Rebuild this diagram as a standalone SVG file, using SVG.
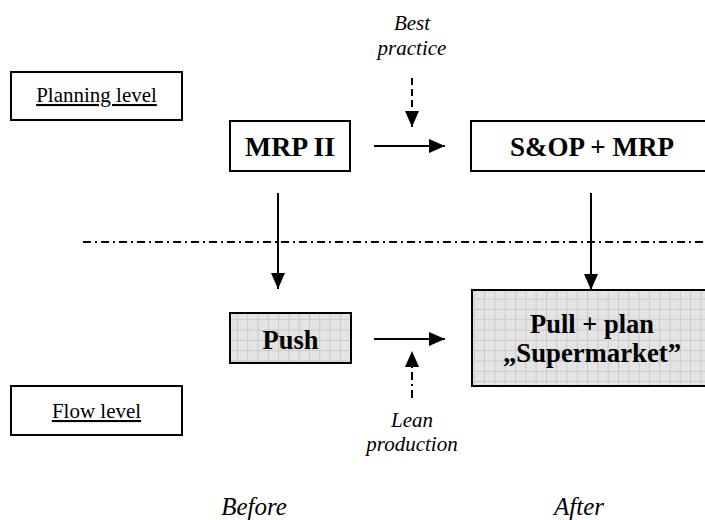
<svg xmlns="http://www.w3.org/2000/svg" width="705" height="520" viewBox="0 0 705 520">
  <defs>
    <style>
      .box { fill: #ffffff; stroke: #000000; stroke-width: 2; }
      .shaded { fill: url(#grid); stroke: #000000; stroke-width: 2; }
      .title { font-family: "Liberation Serif", "Times New Roman", serif; font-weight: bold; font-size: 28px; text-anchor: middle; fill: #000; }
      .level { font-family: "Liberation Serif", "Times New Roman", serif; font-size: 21px; text-anchor: middle; text-decoration: underline; fill: #000; }
      .note { font-family: "Liberation Serif", "Times New Roman", serif; font-style: italic; font-size: 21px; text-anchor: middle; fill: #000; }
      .phase { font-family: "Liberation Serif", "Times New Roman", serif; font-style: italic; font-size: 25px; text-anchor: middle; fill: #000; }
      .arrow { fill: none; stroke: #000; stroke-width: 2; marker-end: url(#head); }
      .dashed { stroke-dasharray: 7 4; }
      .dashdot { stroke-dasharray: 8 4 2 4; }
    </style>
    <pattern id="grid" patternUnits="userSpaceOnUse" x="0" y="0" width="10.3" height="10.3">
      <rect width="10.3" height="10.3" fill="#e4e4e4"/>
      <path d="M0 0.5 H10.3 M0.5 0 V10.3" stroke="#c9c9c9" stroke-width="1"/>
    </pattern>
    <marker id="head" markerUnits="userSpaceOnUse" markerWidth="18" markerHeight="16" refX="16" refY="7" orient="auto">
      <path d="M0 0 L16 7 L0 14 Z" fill="#000"/>
    </marker>
  </defs>

  <!-- level labels -->
  <g id="planning-level">
    <rect class="box" x="11" y="72" width="171" height="48"/>
    <text class="level" x="96.5" y="102">Planning level</text>
  </g>
  <g id="flow-level">
    <rect class="box" x="11" y="386" width="171" height="49"/>
    <text class="level" x="96.5" y="418">Flow level</text>
  </g>

  <!-- planning nodes -->
  <g id="mrp2">
    <rect class="box" x="230" y="121" width="120" height="50"/>
    <text class="title" x="290" y="156" textLength="90" lengthAdjust="spacingAndGlyphs">MRP II</text>
  </g>
  <g id="sop-mrp">
    <rect class="box" x="471" y="121" width="250" height="50"/>
    <text class="title" x="592" y="156" textLength="164" lengthAdjust="spacingAndGlyphs">S&amp;OP + MRP</text>
  </g>

  <!-- flow nodes -->
  <g id="push">
    <rect class="shaded" x="230" y="313" width="121" height="50"/>
    <text class="title" x="290.5" y="349" textLength="56" lengthAdjust="spacingAndGlyphs">Push</text>
  </g>
  <g id="pull-plan">
    <rect class="shaded" x="472" y="290" width="250" height="96"/>
    <text class="title" x="592" y="333" textLength="124" lengthAdjust="spacingAndGlyphs">Pull + plan</text>
    <text class="title" x="592" y="362" textLength="178" lengthAdjust="spacingAndGlyphs">„Supermarket”</text>
  </g>

  <!-- annotations -->
  <g id="best-practice">
    <text class="note" x="412" y="30">Best</text>
    <text class="note" x="412" y="55">practice</text>
  </g>
  <g id="lean-production">
    <text class="note" x="412" y="427">Lean</text>
    <text class="note" x="412" y="451">production</text>
  </g>
  <g id="phases">
    <text class="phase" x="254" y="515">Before</text>
    <text class="phase" x="579" y="515">After</text>
  </g>

  <!-- boundary between planning and flow -->
  <line x1="83" y1="242" x2="705" y2="242" stroke="#000" stroke-width="2" class="dashdot"/>

  <!-- connectors -->
  <g id="connectors">
    <line class="arrow" x1="374" y1="146" x2="445" y2="146"/>
    <line class="arrow" x1="374" y1="339" x2="445" y2="339"/>
    <line class="arrow" x1="278" y1="193" x2="278" y2="289"/>
    <line class="arrow" x1="591" y1="193" x2="591" y2="290"/>
    <line class="arrow dashed" x1="412" y1="78" x2="412" y2="127"/>
    <line class="arrow dashdot" x1="412" y1="398" x2="412" y2="351"/>
  </g>
</svg>
